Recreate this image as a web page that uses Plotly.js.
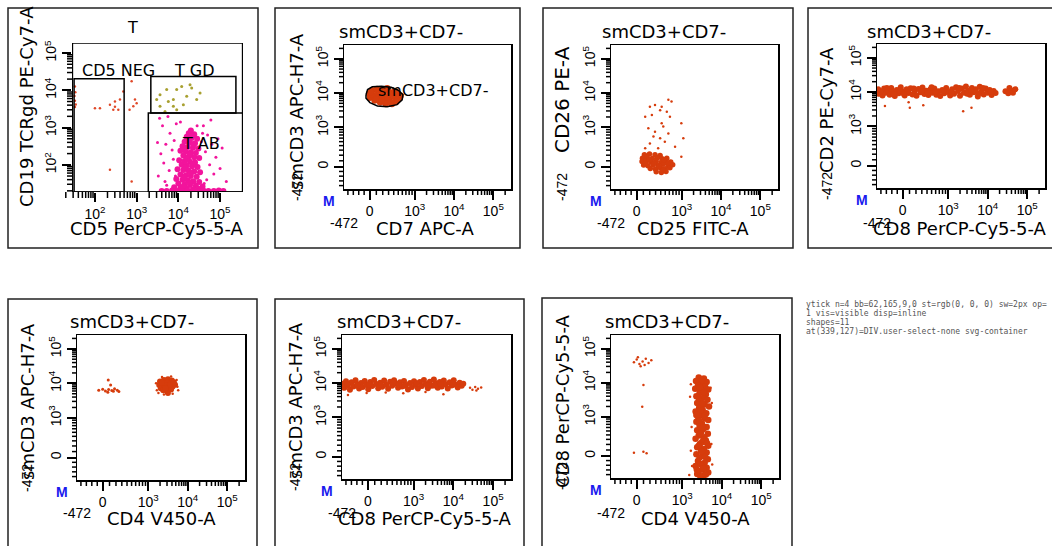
<!DOCTYPE html>
<html><head><meta charset="utf-8">
<script src="https://cdn.plot.ly/plotly-3.0.1.min.js"></script>
<style>html,body{margin:0;padding:0;background:#fff}#chart{width:1052px;height:546px}#dbg{position:absolute;left:806px;top:300px;width:244px;font:8px monospace;white-space:pre-wrap;word-break:break-all;color:#555}</style>
</head><body><div id="chart"></div><div id="dbg"></div>
<script>
// ---------------- DATA (positions on the display scale: 10^k -> k, "0" -> 1.85, "-472" -> 1.2) ----------------
const p1_tab_core = [[4.30,2.92],[4.25,2.85],[4.38,2.82],[4.20,2.75],[4.32,2.72],[4.45,2.70],[4.15,2.62],[4.28,2.60],[4.40,2.58],[4.10,2.50],[4.22,2.48],[4.35,2.46],[4.48,2.44],[4.05,2.38],[4.18,2.36],[4.30,2.34],[4.42,2.32],[4.12,2.25],[4.25,2.22],[4.38,2.20],[4.50,2.18],[4.02,2.12],[4.15,2.10],[4.28,2.08],[4.40,2.06],[4.08,2.00],[4.20,1.98],[4.33,1.96],[4.46,1.94],[3.98,1.88],[4.12,1.86],[4.25,1.84],[4.38,1.82],[4.52,1.80],[4.05,1.74],[4.18,1.72],[4.30,1.70],[4.44,1.68],[3.95,1.62],[4.10,1.60],[4.23,1.58],[4.36,1.56],[4.50,1.54],[4.00,1.50],[4.15,1.48],[4.28,1.46],[4.42,1.44],[4.58,1.42],[3.90,1.40],[4.05,1.38],[4.20,1.36],[4.35,1.34],[4.48,1.36],
  [4.34,2.78],[4.22,2.66],[4.36,2.54],[4.16,2.42],[4.28,2.28],[4.20,2.16],[4.34,2.02],[4.16,1.92],[4.30,1.78],[4.14,1.66],[4.28,1.52],[4.12,1.42],
  [3.60,1.30],[3.72,1.30],[3.85,1.31],[3.97,1.30],[4.10,1.30],[4.22,1.31],[4.35,1.30],[4.47,1.30],[4.60,1.31],[4.72,1.30],[4.85,1.30],[4.97,1.31],[5.08,1.30]];
const p1_tab_sparse = [[3.55,3.25],[3.75,3.30],[3.62,3.05],[3.80,2.85],[3.70,2.55],[3.58,2.30],[3.85,2.40],[3.65,2.05],[3.78,1.85],[3.52,1.70],[3.68,1.55],[3.90,2.65],[3.95,3.10],[4.60,3.05],[4.70,2.80],[4.80,2.55],[4.65,2.35],[4.90,2.20],[4.75,2.00],[5.00,1.90],[4.85,1.75],[4.68,1.60],[5.05,2.45],[4.95,2.70],[4.55,2.62],[3.88,2.15],[3.72,1.45],[4.62,1.50],[5.15,1.55],[4.58,2.85],[3.50,2.60],[3.93,1.70],[4.78,3.20],[4.05,3.15],[4.45,3.05]];
const p1_tgd = [[3.48,3.75],[3.56,3.88],[3.72,4.02],[3.88,3.75],[3.96,4.02],[4.08,4.10],[4.20,3.84],[4.32,4.06],[4.28,4.15],[4.44,3.75],[4.52,3.93],[3.56,3.57],[3.88,3.57],[3.96,3.48],[3.68,3.43],[4.12,3.61],[3.76,3.70]];
const p1_cd5neg = [[1.52,4.10],[1.53,3.95],[1.51,3.85],[1.52,3.72],[1.54,3.62],[1.52,3.55],[2.00,3.52],[2.12,3.52],[2.36,3.61],[2.48,3.70],[2.48,3.56],[2.60,3.75],[2.56,3.48],[2.44,3.48],[2.88,4.24],[2.96,3.75],[2.92,3.57],[2.83,3.48],[2.68,3.97],[2.88,1.55],[2.36,1.87],[3.00,3.65]];
const p1_gate_names = ["T","CD5 NEG","T GD","T AB"];
const p1_gates = [[1.46,5.54,1.27,5.27],[1.50,2.70,1.27,4.31],[3.34,5.38,3.39,4.37],[3.28,5.55,1.27,3.39]];

const p2_blob = [[1.84,3.98],[1.86,3.86],[1.92,4.08],[1.95,3.93],[1.98,3.78],[2.04,4.12],[2.06,4.00],[2.08,3.87],[2.12,3.72],[2.18,4.10],[2.20,3.96],[2.22,3.82],[2.26,3.68],[2.32,4.08],[2.34,3.92],[2.36,3.78],[2.42,3.68],[2.45,4.02],[2.48,3.88],[2.52,3.74],[2.56,3.96],[2.60,3.84],[2.64,3.92],[1.90,3.96],[2.14,3.94],[2.28,3.88],[2.40,3.96],[2.02,3.82],[2.30,4.14],[2.10,4.06],[2.50,4.05],[1.88,4.03],[2.38,3.72],[2.56,3.80],[2.16,3.78]];
const p2_gate_x = [1.76,1.80,1.92,2.15,2.40,2.58,2.70,2.68,2.55,2.30,2.05,1.86,1.76,1.76];
const p2_gate_y = [3.95,4.10,4.18,4.20,4.17,4.08,3.95,3.80,3.66,3.60,3.62,3.72,3.85,3.95];

const p3_blob = [[2.05,2.20],[2.18,2.22],[2.32,2.20],[2.45,2.18],[2.00,2.10],[2.12,2.12],[2.25,2.09],[2.38,2.11],[2.50,2.08],[2.62,2.10],[1.99,2.00],[2.10,2.02],[2.22,1.99],[2.35,2.01],[2.48,1.98],[2.60,2.02],[2.72,1.99],[2.03,1.90],[2.14,1.88],[2.27,1.91],[2.40,1.89],[2.53,1.92],[2.66,1.88],[2.77,1.91],[2.20,1.80],[2.33,1.78],[2.46,1.81],[2.58,1.79],[2.70,1.82],[2.35,1.70],[2.48,1.68],[2.60,1.71],[2.08,1.95],[2.30,1.95],[2.55,2.05],[2.42,1.85],[2.65,1.95],[2.17,2.05],[2.52,1.74]];
const p3_sparse = [[2.19,3.60],[2.32,3.65],[2.49,3.60],[2.66,3.80],[2.74,3.75],[2.07,3.31],[2.24,3.36],[2.45,3.50],[2.62,3.45],[2.70,3.31],[2.49,3.12],[2.15,2.97],[2.32,2.87],[2.53,3.02],[2.66,2.82],[2.28,2.73],[2.45,2.68],[2.57,2.58],[2.99,3.12],[3.04,2.68],[2.40,2.39],[2.19,2.53],[2.99,2.14],[2.83,2.43],[2.07,2.39]];

const p4_band = [[1.23,4.08],[1.25,3.95],[1.30,4.02],[1.34,3.90],[1.38,4.10],[1.42,3.98],[1.47,4.05],[1.52,3.92],[1.56,4.12],[1.60,4.00],[1.65,3.88],[1.70,4.06],[1.75,3.96],[1.80,4.14],[1.85,4.02],[1.90,3.90],[1.95,4.08],[2.00,3.97],[2.05,4.11],[2.10,3.93],[2.15,4.03],[2.20,3.89],[2.25,4.09],[2.30,3.99],[2.35,4.13],[2.40,3.94],[2.45,4.04],[2.50,3.91],[2.55,4.07],[2.60,3.98],[2.65,4.10],[2.70,3.92],[2.75,4.02],[2.80,3.88],[2.85,4.06],[2.90,3.96],[2.95,4.12],[3.00,4.00],[3.05,3.90],[3.10,4.08],[3.15,3.95],[3.20,4.14],[3.25,4.03],[3.30,3.89],[3.35,4.10],[3.40,3.98],[3.45,4.16],[3.50,4.04],[3.55,3.92],[3.60,4.12],[3.65,3.99],[3.70,4.08],[3.75,3.87],[3.80,4.15],[3.85,4.02],[3.90,3.93],[3.95,4.10],[4.00,3.98],[4.05,4.06],[4.10,3.91],[4.15,4.03],[4.20,3.97],
  [1.28,4.00],[1.45,4.12],[1.62,3.94],[1.78,4.04],[1.97,4.00],[2.13,4.10],[2.32,4.02],[2.48,3.97],[2.68,4.00],[2.88,4.03],[3.08,3.98],[3.28,4.12],[3.48,3.95],[3.68,4.02],[3.88,4.12],[4.08,4.00],[3.58,4.06],[3.78,3.96],[2.58,4.14],[1.88,3.94],
  [4.45,4.02],[4.52,3.96],[4.58,4.05],[4.64,3.98],[4.70,4.08],[4.55,4.12]];
const p4_sparse = [[1.40,3.59],[2.03,3.54],[2.37,3.61],[3.38,3.44],[3.59,3.54],[2.00,3.70]];

const p5_left = [[1.75,3.80],[1.85,3.83],[1.92,3.78],[2.00,3.82],[2.08,3.79],[2.15,3.84],[2.22,3.80],[2.26,3.76],[2.05,3.95],[1.98,3.74],[2.12,3.77],[1.99,4.10]];
const p5_core = [[3.30,4.05],[3.40,4.10],[3.50,4.12],[3.60,4.08],[3.28,3.95],[3.38,3.98],[3.48,4.02],[3.58,3.99],[3.68,3.96],[3.32,3.86],[3.42,3.90],[3.52,3.88],[3.62,3.91],[3.38,3.80],[3.48,3.78],[3.58,3.82],[3.45,3.95],[3.55,3.95],[3.35,4.02],[3.65,4.03],[3.50,3.72],[3.44,3.85]];
const p5_sparse = [[3.20,4.00],[3.22,3.80],[3.74,3.90],[3.72,4.10],[3.58,4.20],[3.35,4.18],[3.40,3.68],[3.62,3.70],[3.26,3.72],[3.76,3.80]];

const p6_band = [[1.22,3.98],[1.26,3.86],[1.30,4.05],[1.35,3.92],[1.40,3.80],[1.44,4.02],[1.49,3.90],[1.54,4.08],[1.58,3.96],[1.63,3.84],[1.68,4.00],[1.72,3.88],[1.77,4.06],[1.82,3.94],[1.86,3.82],[1.91,4.03],[1.96,3.91],[2.01,4.09],[2.06,3.97],[2.11,3.85],[2.16,4.01],[2.21,3.89],[2.26,4.07],[2.31,3.95],[2.36,3.83],[2.41,4.04],[2.46,3.92],[2.51,4.08],[2.56,3.98],[2.61,3.86],[2.66,4.02],[2.71,3.90],[2.76,4.06],[2.81,3.94],[2.86,3.81],[2.91,4.00],[2.96,3.88],[3.01,4.05],[3.06,3.95],[3.11,3.84],[3.16,4.03],[3.21,3.91],[3.26,4.09],[3.31,3.97],[3.36,3.85],[3.41,4.04],[3.46,3.92],[3.51,4.10],[3.56,3.99],[3.61,3.86],[3.66,4.03],[3.71,3.90],[3.76,4.07],[3.81,3.96],[3.86,3.84],[3.91,4.02],[3.96,3.93],[4.01,4.08],[4.06,3.95],[4.11,3.87],[4.16,4.01],[4.21,3.92],[4.25,3.98],
  [1.33,3.98],[1.60,3.92],[1.88,3.96],[2.18,3.95],[2.48,3.99],[2.78,3.92],[3.08,3.99],[3.38,3.94],[3.68,3.97],[3.98,3.99],[2.63,3.94],[3.53,3.93]];
const p6_sparse = [[4.42,3.86],[4.48,3.80],[4.55,3.88],[4.62,3.83],[4.70,3.87],[4.58,3.78],[1.35,3.65],[1.82,3.71],[2.74,3.70],[3.75,3.67],[2.30,3.72],[3.30,3.74]];

const p7_band = [[3.42,4.15],[3.55,4.12],[3.35,4.05],[3.62,4.02],[3.48,3.98],[3.40,3.92],[3.58,3.88],[3.33,3.82],[3.66,3.80],[3.50,3.76],[3.44,3.70],[3.60,3.66],[3.36,3.60],[3.54,3.56],[3.64,3.50],[3.46,3.46],[3.38,3.40],[3.57,3.36],[3.68,3.30],[3.43,3.26],[3.52,3.20],[3.34,3.15],[3.61,3.10],[3.47,3.05],[3.40,3.00],[3.58,2.95],[3.66,2.90],[3.36,2.85],[3.50,2.80],[3.44,2.74],[3.62,2.70],[3.54,2.64],[3.38,2.60],[3.48,2.55],[3.65,2.50],[3.42,2.45],[3.56,2.40],[3.34,2.35],[3.60,2.30],[3.50,2.25],[3.45,2.20],[3.66,2.15],[3.38,2.10],[3.55,2.05],[3.48,2.00],[3.62,1.95],[3.36,1.90],[3.52,1.85],[3.44,1.80],[3.65,1.75],[3.40,1.70],[3.57,1.65],[3.48,1.60],[3.34,1.55],[3.62,1.50],[3.52,1.45],[3.42,1.40],[3.66,1.36],[3.38,1.32],[3.55,1.28],[3.46,1.25],
  [3.50,4.08],[3.45,3.86],[3.55,3.72],[3.42,3.55],[3.52,3.38],[3.47,3.18],[3.56,3.02],[3.44,2.88],[3.52,2.68],[3.46,2.50],[3.54,2.33],[3.42,2.15],[3.50,1.98],[3.58,1.82],[3.46,1.62],[3.53,1.48],[3.60,1.30],[3.37,1.45],[3.63,2.22],[3.36,3.05]];
const p7_sparse = [[1.78,4.60],[1.85,4.68],[1.92,4.55],[2.00,4.62],[2.08,4.70],[2.15,4.58],[2.22,4.66],[1.95,4.48],[2.05,4.52],[1.88,4.75],[2.02,3.93],[1.99,3.29],[1.78,1.94],[2.02,1.97],[2.10,1.93],
  [3.22,3.95],[3.20,3.59],[3.75,3.40],[3.24,2.70],[3.74,2.20],[3.18,1.29],[3.22,2.00],[3.76,1.60],[3.25,1.55],[3.72,3.85]];

const panelTitle = "smCD3+CD7-";
const xTitles = ["CD5 PerCP-Cy5-5-A","CD7 APC-A","CD25 FITC-A","CD8 PerCP-Cy5-5-A","CD4 V450-A","CD8 PerCP-Cy5-5-A","CD4 V450-A"];
const yTitles = ["CD19 TCRgd PE-Cy7-A","smCD3 APC-H7-A","CD26 PE-A","CD2 PE-Cy7-A","smCD3 APC-H7-A","smCD3 APC-H7-A","CD8 PerCP-Cy5-5-A"];
const logTickLabels = ["10<sup>2</sup>","10<sup>3</sup>","10<sup>4</sup>","10<sup>5</sup>"];
const biexTickLabels = ["0","10<sup>3</sup>","10<sup>4</sup>","10<sup>5</sup>"];
const negLabel = "-472";

// ---------------- LAYOUT ----------------
const W = 1052, H = 546;
const fx = p => p / W, fy = p => 1 - p / H;
const boxes = [[72,43,243,192],[344,45,511,189],[611,45,778,189],[877,44,1045,188],[77,335,245,480],[342,335,511,479],[611,335,779,478]];
const outer = [[8,8,258,248],[275,8,520,248],[543,8,793,248],[808,8,1062,248],[8,299,257,560],[275,299,524,560],[542,298,792,560]];
const txt = [[0,0,157,228,27,107,18],[337,31,425,228,297,112,18],[600,31,693,228,562,100,20],[865,31,960,228,827,110,18],[68,321,161,518,27,402,18],[335,321,425,518,295,401,18],[603,321,695,518,562,401,18]];
const xRange = i => i===0 ? [1.45,5.55] : [1.2,5.45];
const yRange = i => i===0 ? [1.27,5.27] : [1.2,5.4];

function biexPos(v){
  if (v >= 1000) return Math.log10(v);
  if (v >= 0) return 1.85 + 1.15*Math.asinh(v/400)/Math.asinh(2.5);
  return 1.85 + v*0.65/472;
}
const biexMinor = [-400,-300,-200,-100,100,200,300,400,500,600,700,800,900]
  .concat([2,3,4,5,6,7,8,9].flatMap(k=>[k*1e3,k*1e4,k*1e5])).map(biexPos).filter(d=>d>1.21&&d<5.39);
const logMinor = [1,2,3,4,5].flatMap(n=>[2,3,4,5,6,7,8,9].map(k=>Math.log10(k*Math.pow(10,n)))).filter(d=>d>1.28&&d<5.26);

const tickFont = {family:"Liberation Sans, Arial, sans-serif", size:14, color:"#000"};
const layout = {
  width: W, height: H, margin:{l:0,r:0,t:0,b:0}, showlegend:false,
  paper_bgcolor:"#fff", plot_bgcolor:"rgba(0,0,0,0)", shapes:[], annotations:[]
};
function axisMain(i, isY){
  const first = i === 0;
  const b = boxes[i];
  const a = {
    domain: isY ? [fy(b[3]), fy(b[1])] : [fx(b[0]), fx(b[2])],
    anchor: (isY ? 'x' : 'y') + (first ? '' : (i+1)),
    range: isY ? yRange(i) : xRange(i),
    tickmode:'array',
    tickvals: first ? [2,3,4,5] : [1.85,3,4,5],
    ticktext: first ? logTickLabels : biexTickLabels,
    ticks:'outside', ticklen:9, tickwidth:2, tickcolor:'#000',
    showline: !first, mirror: !first, linecolor:'#000', linewidth:1.5,
    showgrid:false, zeroline:false, tickfont: tickFont
  };
  if (isY) a.tickangle = -90;
  return a;
}
for (let i=0;i<7;i++){
  const s = i===0 ? '' : (i+1);
  layout['xaxis'+s] = axisMain(i,false);
  layout['yaxis'+s] = axisMain(i,true);
}
// a full-page overlay subplot in pixel units, used to draw the minor tick marks as line traces
layout.xaxis20 = {domain:[0,1], range:[0,W], anchor:'y20', visible:false, showgrid:false, zeroline:false};
layout.yaxis20 = {domain:[0,1], range:[H,0], anchor:'x20', visible:false, showgrid:false, zeroline:false};
function tickLines(i, isY, vals, len){
  const b = boxes[i], xr = xRange(i), yr = yRange(i), xs = [], ys = [];
  vals.forEach(v=>{
    if (!isY){
      const p = b[0] + (v - xr[0])/(xr[1]-xr[0])*(b[2]-b[0]);
      xs.push(p,p,null); ys.push(b[3], b[3]+len, null);
    } else {
      const p = b[3] - (v - yr[0])/(yr[1]-yr[0])*(b[3]-b[1]);
      xs.push(b[0], b[0]-len, null); ys.push(p,p,null);
    }
  });
  return {xs, ys};
}
const ann = (x,y,text,opt) => Object.assign({xref:'paper',yref:'paper',x:fx(x),y:fy(y),text,showarrow:false,xanchor:'center',yanchor:'middle',font:{family:"DejaVu Sans, sans-serif",size:18,color:"#000"}}, opt||{});
for (let i=0;i<7;i++){
  const b = boxes[i], t = txt[i], o = outer[i];
  layout.shapes.push({type:'rect',xref:'paper',yref:'paper',x0:fx(o[0]),x1:fx(o[2]),y0:fy(o[3]),y1:fy(o[1]),line:{color:'#222',width:1.5}});
  layout.annotations.push(ann(t[2],t[3],xTitles[i]));
  layout.annotations.push(ann(t[4],t[5],yTitles[i],{textangle:-90,font:{family:"DejaVu Sans, sans-serif",size:t[6],color:"#000"}}));
  if (i>0){
    layout.annotations.push(ann(t[0],t[1],panelTitle,{xanchor:'left',font:{family:"DejaVu Sans, sans-serif",size:18,color:"#000"}}));
    layout.annotations.push(ann(b[0],t[3]-5,negLabel,{font:tickFont}));
    layout.annotations.push(ann(t[4],b[3]-2,negLabel,{textangle:-90,font:tickFont}));
    layout.annotations.push(ann(b[0]-15,b[3]+12,"<b>M</b>",{font:{family:"Liberation Sans, Arial, sans-serif",size:14,color:"#1a1aee"}}));
  }
}
p1_gates.forEach(g=>layout.shapes.push({type:'rect',xref:'x',yref:'y',x0:g[0],x1:g[1],y0:g[2],y1:g[3],line:{color:'#000',width:1.5}}));
const gateFont = {family:"DejaVu Sans, sans-serif",size:16,color:"#000"};
layout.annotations.push(ann(132,27,p1_gate_names[0],{font:gateFont}));
layout.annotations.push(ann(118,70,p1_gate_names[1],{font:gateFont}));
layout.annotations.push(ann(194,70,p1_gate_names[2],{font:gateFont}));
layout.annotations.push(ann(201,144,p1_gate_names[3],{font:gateFont}));
layout.annotations.push(ann(376,91,panelTitle,{xanchor:'left',font:{family:"DejaVu Sans, sans-serif",size:16,color:"#000"}}));

// ---------------- TRACES ----------------
const ORANGE = "#d63c0c", MAGENTA = "#f2149c", OLIVE = "#a8a030", RED = "#e04828";
function sc(pairs, i, color, size){
  const s = i===0 ? '' : (i+1);
  return {type:'scatter', mode:'markers', x:pairs.map(p=>p[0]), y:pairs.map(p=>p[1]), xaxis:'x'+s, yaxis:'y'+s,
    marker:{color, size, line:{width:0}}, hoverinfo:'skip'};
}
const data = [
  sc(p1_tab_sparse,0,MAGENTA,3), sc(p1_tab_core,0,MAGENTA,6), sc(p1_tgd,0,OLIVE,3), sc(p1_cd5neg,0,RED,2.5),
  sc(p2_blob,1,ORANGE,6.5),
  {type:'scatter',mode:'lines',x:p2_gate_x,y:p2_gate_y,xaxis:'x2',yaxis:'y2',line:{color:'#000',width:1.5},hoverinfo:'skip'},
  sc(p3_blob,2,ORANGE,5.5), sc(p3_sparse,2,ORANGE,2.5),
  sc(p4_band,3,ORANGE,6), sc(p4_sparse,3,ORANGE,2.5),
  sc(p5_left,4,ORANGE,3), sc(p5_core,4,ORANGE,6), sc(p5_sparse,4,ORANGE,2.5),
  sc(p6_band,5,ORANGE,6), sc(p6_sparse,5,ORANGE,2.5),
  sc(p7_band,6,ORANGE,6.5), sc(p7_sparse,6,ORANGE,2.5)
];
const mx = [], my = [];
for (let i=0;i<7;i++){
  const minor = i===0 ? logMinor : biexMinor;
  const a = tickLines(i,false,minor,6), c = tickLines(i,true,minor,5);
  mx.push(...a.xs, ...c.xs); my.push(...a.ys, ...c.ys);
}
data.push({type:'scatter',mode:'lines',x:mx,y:my,xaxis:'x20',yaxis:'y20',line:{color:'#000',width:1.5},connectgaps:false,hoverinfo:'skip'});

Plotly.newPlot('chart', data, layout, {staticPlot:true}).then(()=>{
  let s = '';
  const yt = document.querySelectorAll('path.ytick');
  s += 'ytick n='+yt.length;
  if (yt[0]) { const e=yt[0], r=e.getBoundingClientRect(), cs=getComputedStyle(e); s += ' bb='+[r.x,r.y,r.width,r.height].map(Math.round)+' st='+cs.stroke+' sw='+cs.strokeWidth+' op='+cs.opacity+' vis='+cs.visibility+' disp='+cs.display; }
  const sl = document.querySelectorAll('.shapelayer path'); s += '\nshapes='+sl.length;
  const el = document.elementFromPoint(339,127); s += '\nat(339,127)='+(el?el.tagName+'.'+(el.getAttribute('class')||''):'none');
  document.getElementById('dbg').textContent = s;
}).catch(e=>{document.getElementById('dbg').textContent='ERR '+e;});
</script></body></html>
